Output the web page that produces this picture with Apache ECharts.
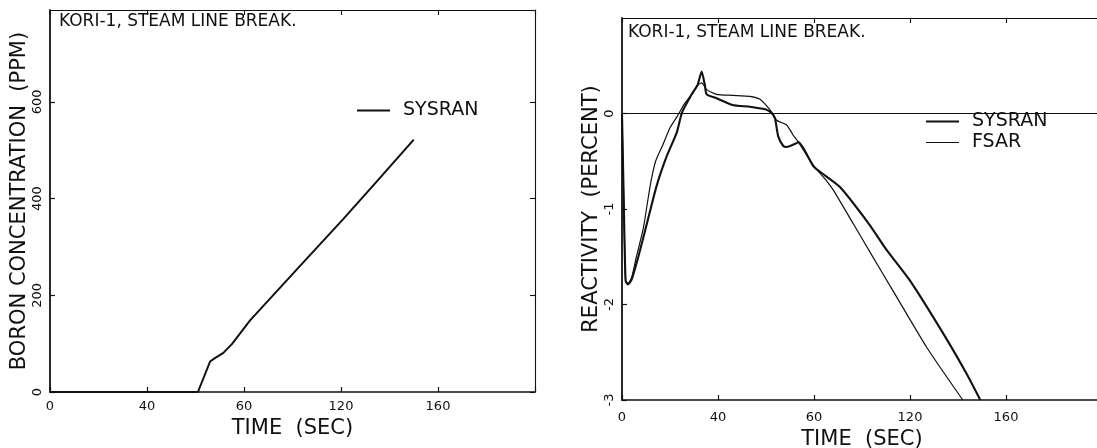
<!DOCTYPE html>
<html>
<head>
<meta charset="utf-8">
<script src="https://cdn.jsdelivr.net/npm/echarts@6/dist/echarts.min.js"></script>
<style>
  html, body { margin: 0; padding: 0; background: #fff; }
  #chart { width: 1097px; height: 448px; }
</style>
</head>
<body>
<div id="chart"></div>
<script>
// ---- data ----
const panelTitle = 'KORI-1, STEAM LINE BREAK.';
const timeTickLabels = ['0', '40', '60', '120', '160'];   // as printed on the figure
const boronTickLabels = ['0', '200', '400', '600'];
const reactivityTickLabels = ['-3', '-2', '-1', '0'];

// left panel: boron concentration (ppm) vs time (s), SYSRAN
const boronTime = [0, 61, 66, 68, 71.5, 75, 82.5, 101.7, 121, 134.7, 150];
const boronPpm  = [0, 0, 63, 70, 81, 99, 148, 253, 358, 435, 522];

// right panel: reactivity (percent) vs time (s)
const sysranTime = [0, 0.8, 1.5, 2.5, 4, 6.7, 10.4, 14.4, 18.6, 22.8, 25, 29, 31.5, 33.2, 34.5, 35.3, 39.4, 46, 53.3, 60.3, 62.5, 63.75, 65.1, 67.2, 68.6, 72.8, 73.5, 79.7, 82.5, 90.8, 103, 110, 120, 134, 143.7, 149.3];
const sysranReactivity = [0, -1.0, -1.75, -1.79, -1.74, -1.51, -1.15, -0.76, -0.45, -0.2, 0.01, 0.2, 0.3, 0.44, 0.3, 0.2, 0.16, 0.09, 0.07, 0.04, 0.0, -0.05, -0.24, -0.34, -0.35, -0.31, -0.3, -0.55, -0.61, -0.77, -1.16, -1.42, -1.75, -2.31, -2.73, -3.0];

const fsarTime = [0, 0.8, 1.5, 2.5, 4, 6, 8.9, 10.5, 12, 14, 17, 20, 23, 26, 29, 31.7, 33.2, 35.3, 39.4, 46, 53.3, 57.5, 60.3, 62.5, 64.4, 68.6, 71.4, 73.5, 79.7, 85.4, 88, 96.5, 104, 113, 127, 142];
const fsarReactivity = [0, -1.0, -1.75, -1.78, -1.72, -1.5, -1.2, -0.95, -0.72, -0.5, -0.33, -0.15, -0.03, 0.1, 0.2, 0.3, 0.32, 0.25, 0.2, 0.19, 0.18, 0.15, 0.08, 0.01, -0.07, -0.12, -0.23, -0.3, -0.54, -0.71, -0.8, -1.16, -1.48, -1.86, -2.45, -3.0];

// ---- chart ----
const FONT = 'DejaVu Sans';
const INK = '#111';
const zip = (a, b) => a.map((x, i) => [x, b[i]]);
const timeFmt = v => (v % 40 === 0 && v / 40 < timeTickLabels.length) ? timeTickLabels[v / 40] : '';

function bottomX(grid, nameGap, labelMargin) {
  return {
    type: 'value', gridIndex: grid, position: 'bottom', min: 0, max: 200, interval: 40,
    name: 'TIME  (SEC)', nameLocation: 'middle', nameGap: nameGap,
    nameTextStyle: { fontFamily: FONT, fontSize: 21, color: INK },
    axisLine: { show: true, onZero: false, lineStyle: { color: INK, width: 1.6 } },
    axisTick: { show: true, inside: true, length: 5, lineStyle: { color: INK, width: 1.2 } },
    axisLabel: { formatter: timeFmt, fontFamily: FONT, fontSize: 13, color: INK, margin: labelMargin },
    splitLine: { show: false }
  };
}
function topX(grid) {
  return {
    type: 'value', gridIndex: grid, position: 'top', min: 0, max: 200, interval: 40,
    axisLine: { show: true, onZero: false, lineStyle: { color: INK, width: 1.1 } },
    axisTick: { show: true, inside: true, length: 5, lineStyle: { color: INK, width: 1.1 } },
    axisLabel: { show: false }, splitLine: { show: false }
  };
}
function leftY(grid, min, max, interval, labels, name, nameGap) {
  return {
    type: 'value', gridIndex: grid, position: 'left', min: min, max: max, interval: interval,
    name: name, nameLocation: 'middle', nameGap: nameGap, nameRotate: 90,
    nameTextStyle: { fontFamily: FONT, fontSize: 21, color: INK },
    axisLine: { show: true, onZero: false, lineStyle: { color: INK, width: 1.8 } },
    axisTick: { show: true, inside: true, length: 5, lineStyle: { color: INK, width: 1.2 } },
    axisLabel: {
      rotate: 90, margin: 6, fontFamily: FONT, fontSize: 13, color: INK, showMaxLabel: false,
      formatter: v => { const i = Math.round((v - min) / interval); return (Math.abs(v - (min + i * interval)) < 1e-9 && i < labels.length) ? labels[i] : ''; }
    },
    splitLine: { show: false }
  };
}
function rightY(grid, min, max, interval) {
  return {
    type: 'value', gridIndex: grid, position: 'right', min: min, max: max, interval: interval,
    axisLine: { show: true, onZero: false, lineStyle: { color: INK, width: 1.1 } },
    axisTick: { show: true, inside: true, length: 5, lineStyle: { color: INK, width: 1.1 } },
    axisLabel: { show: false }, splitLine: { show: false }
  };
}
function legendItem(name, left, top, lineH) {
  return {
    data: [{ name: name }], left: left, top: top, icon: 'rect', itemWidth: 33, itemHeight: lineH,
    textStyle: { fontFamily: FONT, fontSize: 19, color: INK, padding: [0, 0, 0, 8] }, selectedMode: false
  };
}

const chart = echarts.init(document.getElementById('chart'), null, { renderer: 'canvas' });
chart.setOption({
  backgroundColor: '#fff',
  animation: false,
  title: [
    { text: panelTitle, left: 59, top: 13, padding: 0, textStyle: { fontFamily: FONT, fontSize: 17, fontWeight: 'normal', color: INK } },
    { text: panelTitle, left: 628, top: 24, padding: 0, textStyle: { fontFamily: FONT, fontSize: 17, fontWeight: 'normal', color: INK } }
  ],
  legend: [
    legendItem('SYSRAN', 352, 96, 2),
    legendItem('SYSRAN ', 921, 107, 2),
    legendItem('FSAR', 921, 128, 1.2)
  ],
  grid: [
    { left: 50, top: 10, width: 485, height: 382, containLabel: false, outerBoundsMode: 'none' },
    { left: 622, top: 18, width: 480, height: 382, containLabel: false, outerBoundsMode: 'none' }
  ],
  xAxis: [ bottomX(0, 13, 8), topX(0), bottomX(1, 25, 11), topX(1) ],
  yAxis: [
    leftY(0, 0, 790, 200, boronTickLabels, 'BORON CONCENTRATION  (PPM)', 19), rightY(0, 0, 790, 200),
    leftY(1, -3, 1, 1, reactivityTickLabels, 'REACTIVITY  (PERCENT)', 19), rightY(1, -3, 1, 1)
  ],
  series: [
    { name: 'SYSRAN', type: 'line', xAxisIndex: 0, yAxisIndex: 0, data: zip(boronTime, boronPpm),
      symbol: 'none', smooth: false, lineStyle: { color: INK, width: 2 }, itemStyle: { color: INK } },
    { name: 'SYSRAN ', type: 'line', xAxisIndex: 2, yAxisIndex: 2, data: zip(sysranTime, sysranReactivity),
      symbol: 'none', smooth: 0.2, lineStyle: { color: INK, width: 2.1 }, itemStyle: { color: INK },
      markLine: { silent: true, symbol: 'none', label: { show: false },
        lineStyle: { color: INK, width: 1.1, type: 'solid' }, data: [{ yAxis: 0 }] } },
    { name: 'FSAR', type: 'line', xAxisIndex: 2, yAxisIndex: 2, data: zip(fsarTime, fsarReactivity),
      symbol: 'none', smooth: 0.2, lineStyle: { color: INK, width: 1.2 }, itemStyle: { color: INK } }
  ]
});
</script>
</body>
</html>
